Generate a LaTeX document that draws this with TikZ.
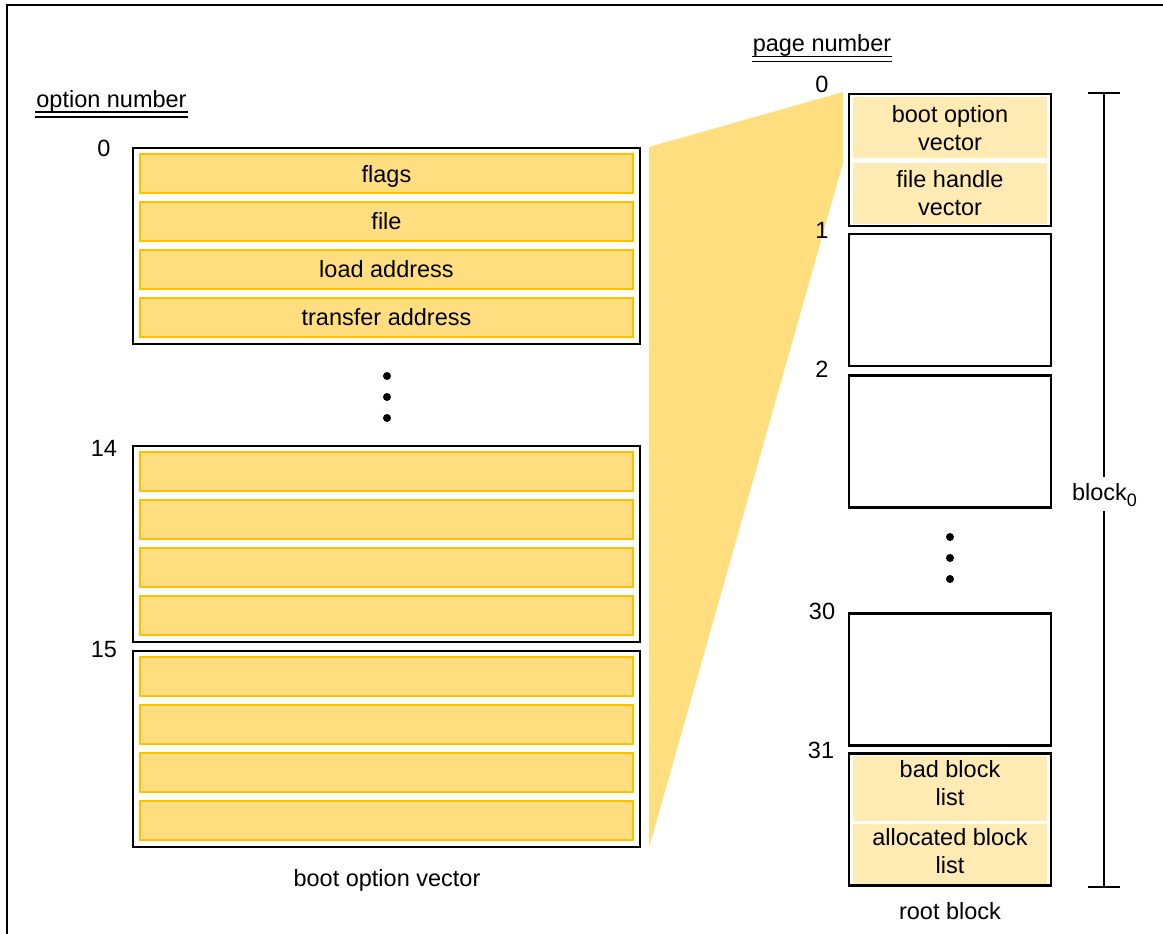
\documentclass[tikz,border=0pt]{standalone}
\usepackage{fontspec}
\setmainfont{Liberation Sans}
\definecolor{barfill}{RGB}{255,222,128}
\definecolor{barline}{RGB}{255,192,0}
\definecolor{cellfill}{RGB}{255,235,179}
\begin{document}
\begin{tikzpicture}[x=1pt,y=-1pt,
  every node/.style={font=\fontsize{23.5}{28.5}\selectfont, inner sep=0pt, outer sep=0pt},
  outerbox/.style={draw=black, line width=2.6pt, fill=white, minimum width=#1},
  optbox/.style={outerbox=507pt, minimum height=196pt},
  pagebox/.style={outerbox=202pt, minimum height=132pt},
  bar/.style={draw=barline, line width=2.2pt, fill=barfill, minimum width=493pt, minimum height=39pt},
  cell/.style={fill=cellfill, minimum width=194pt},
  celltext/.style={align=center},
  dot/.style={circle, fill=black, minimum size=8pt},
  thinline/.style={line width=1.8pt},
]
\useasboundingbox (0,0) rectangle (1163,934);
\draw[thinline] (7,934) -- (7,5) -- (1163,5);

% zoom wedge
\fill[barfill] (649,147) -- (843,92) -- (843,163) -- (649,848) -- cycle;

% headings
\node[anchor=base] (optnum) at (111.5,107) {option number};
\draw[thinline] (35,112) -- (188,112) (35,117) -- (188,117);
\node[anchor=base] (pagenum) at (822,52) {page number};
\draw[thinline] (752,56.5) -- (892,56.5) (752,61.5) -- (892,61.5);

% option vector boxes
\node[optbox] (opt0) at (386.5,246) {};
\node[bar] (b0a) at (386.5,173.5) {};
\node[bar] (b0b) at (386.5,221.5) {};
\node[bar] (b0c) at (386.5,269.5) {};
\node[bar] (b0d) at (386.5,317.5) {};
\node[anchor=base] (t0a) at (386.5,182) {flags};
\node[anchor=base] (t0b) at (386.5,229) {file};
\node[anchor=base] (t0c) at (386.5,277) {load address};
\node[anchor=base] (t0d) at (386.5,325) {transfer address};

\node[optbox] (opt14) at (386.5,544) {};
\node[bar] (b14a) at (386.5,471.5) {};
\node[bar] (b14b) at (386.5,519.5) {};
\node[bar] (b14c) at (386.5,567.5) {};
\node[bar] (b14d) at (386.5,615.5) {};

\node[optbox] (opt15) at (386.5,749) {};
\node[bar] (b15a) at (386.5,676.5) {};
\node[bar] (b15b) at (386.5,724.5) {};
\node[bar] (b15c) at (386.5,772.5) {};
\node[bar] (b15d) at (386.5,820.5) {};

\node (n0) at (104,148) {0};
\node (n14) at (104,448) {14};
\node (n15) at (104,650) {15};

\node[dot] (ld1) at (387,376) {};
\node[dot] (ld2) at (387,397) {};
\node[dot] (ld3) at (387,418) {};

\node (bov) at (387,880) {boot option vector};

% page boxes
\node[pagebox] (p0) at (950,160) {};
\node[cell, minimum height=61pt] (c0a) at (950,127.5) {};
\node[cell, minimum height=61pt] (c0b) at (950,193.5) {};
\node[celltext] (t0va) at (950,128) {boot option\\vector};
\node[celltext] (t0vb) at (950,193) {file handle\\vector};
\node[pagebox] (p1) at (950,300) {};
\node[pagebox] (p2) at (950,441.5) {};
\node[pagebox] (p30) at (950,679.5) {};
\node[pagebox] (p31) at (950,819.5) {};
\node[cell, minimum height=65pt] (c31a) at (950,788.5) {};
\node[cell, minimum height=60pt] (c31b) at (950,854) {};
\node[celltext] (t31a) at (950,783) {bad block\\list};
\node[celltext] (t31b) at (950,851) {allocated block\\list};

\node (m0) at (822,84) {0};
\node (m1) at (822,230) {1};
\node (m2) at (822,369) {2};
\node (m30) at (822,611) {30};
\node (m31) at (821,750) {31};

\node[dot] (rd1) at (950,537) {};
\node[dot] (rd2) at (950,558) {};
\node[dot] (rd3) at (950,579) {};

\node (root) at (950,911) {root block};

% bracket
\node[anchor=base west] (blk) at (1072,500) {block\raisebox{-6pt}{\fontsize{18}{18}\selectfont 0}};
\coordinate (bt) at (1104,93);
\coordinate (bb) at (1104,887);
\draw[line width=2.2pt] (bt) -- (1104,477) (1104,511) -- (bb);
\draw[line width=2.2pt] ([xshift=-16pt]bt) -- ([xshift=16pt]bt);
\draw[line width=2.2pt] ([xshift=-16pt]bb) -- ([xshift=16pt]bb);
\end{tikzpicture}
\end{document}
